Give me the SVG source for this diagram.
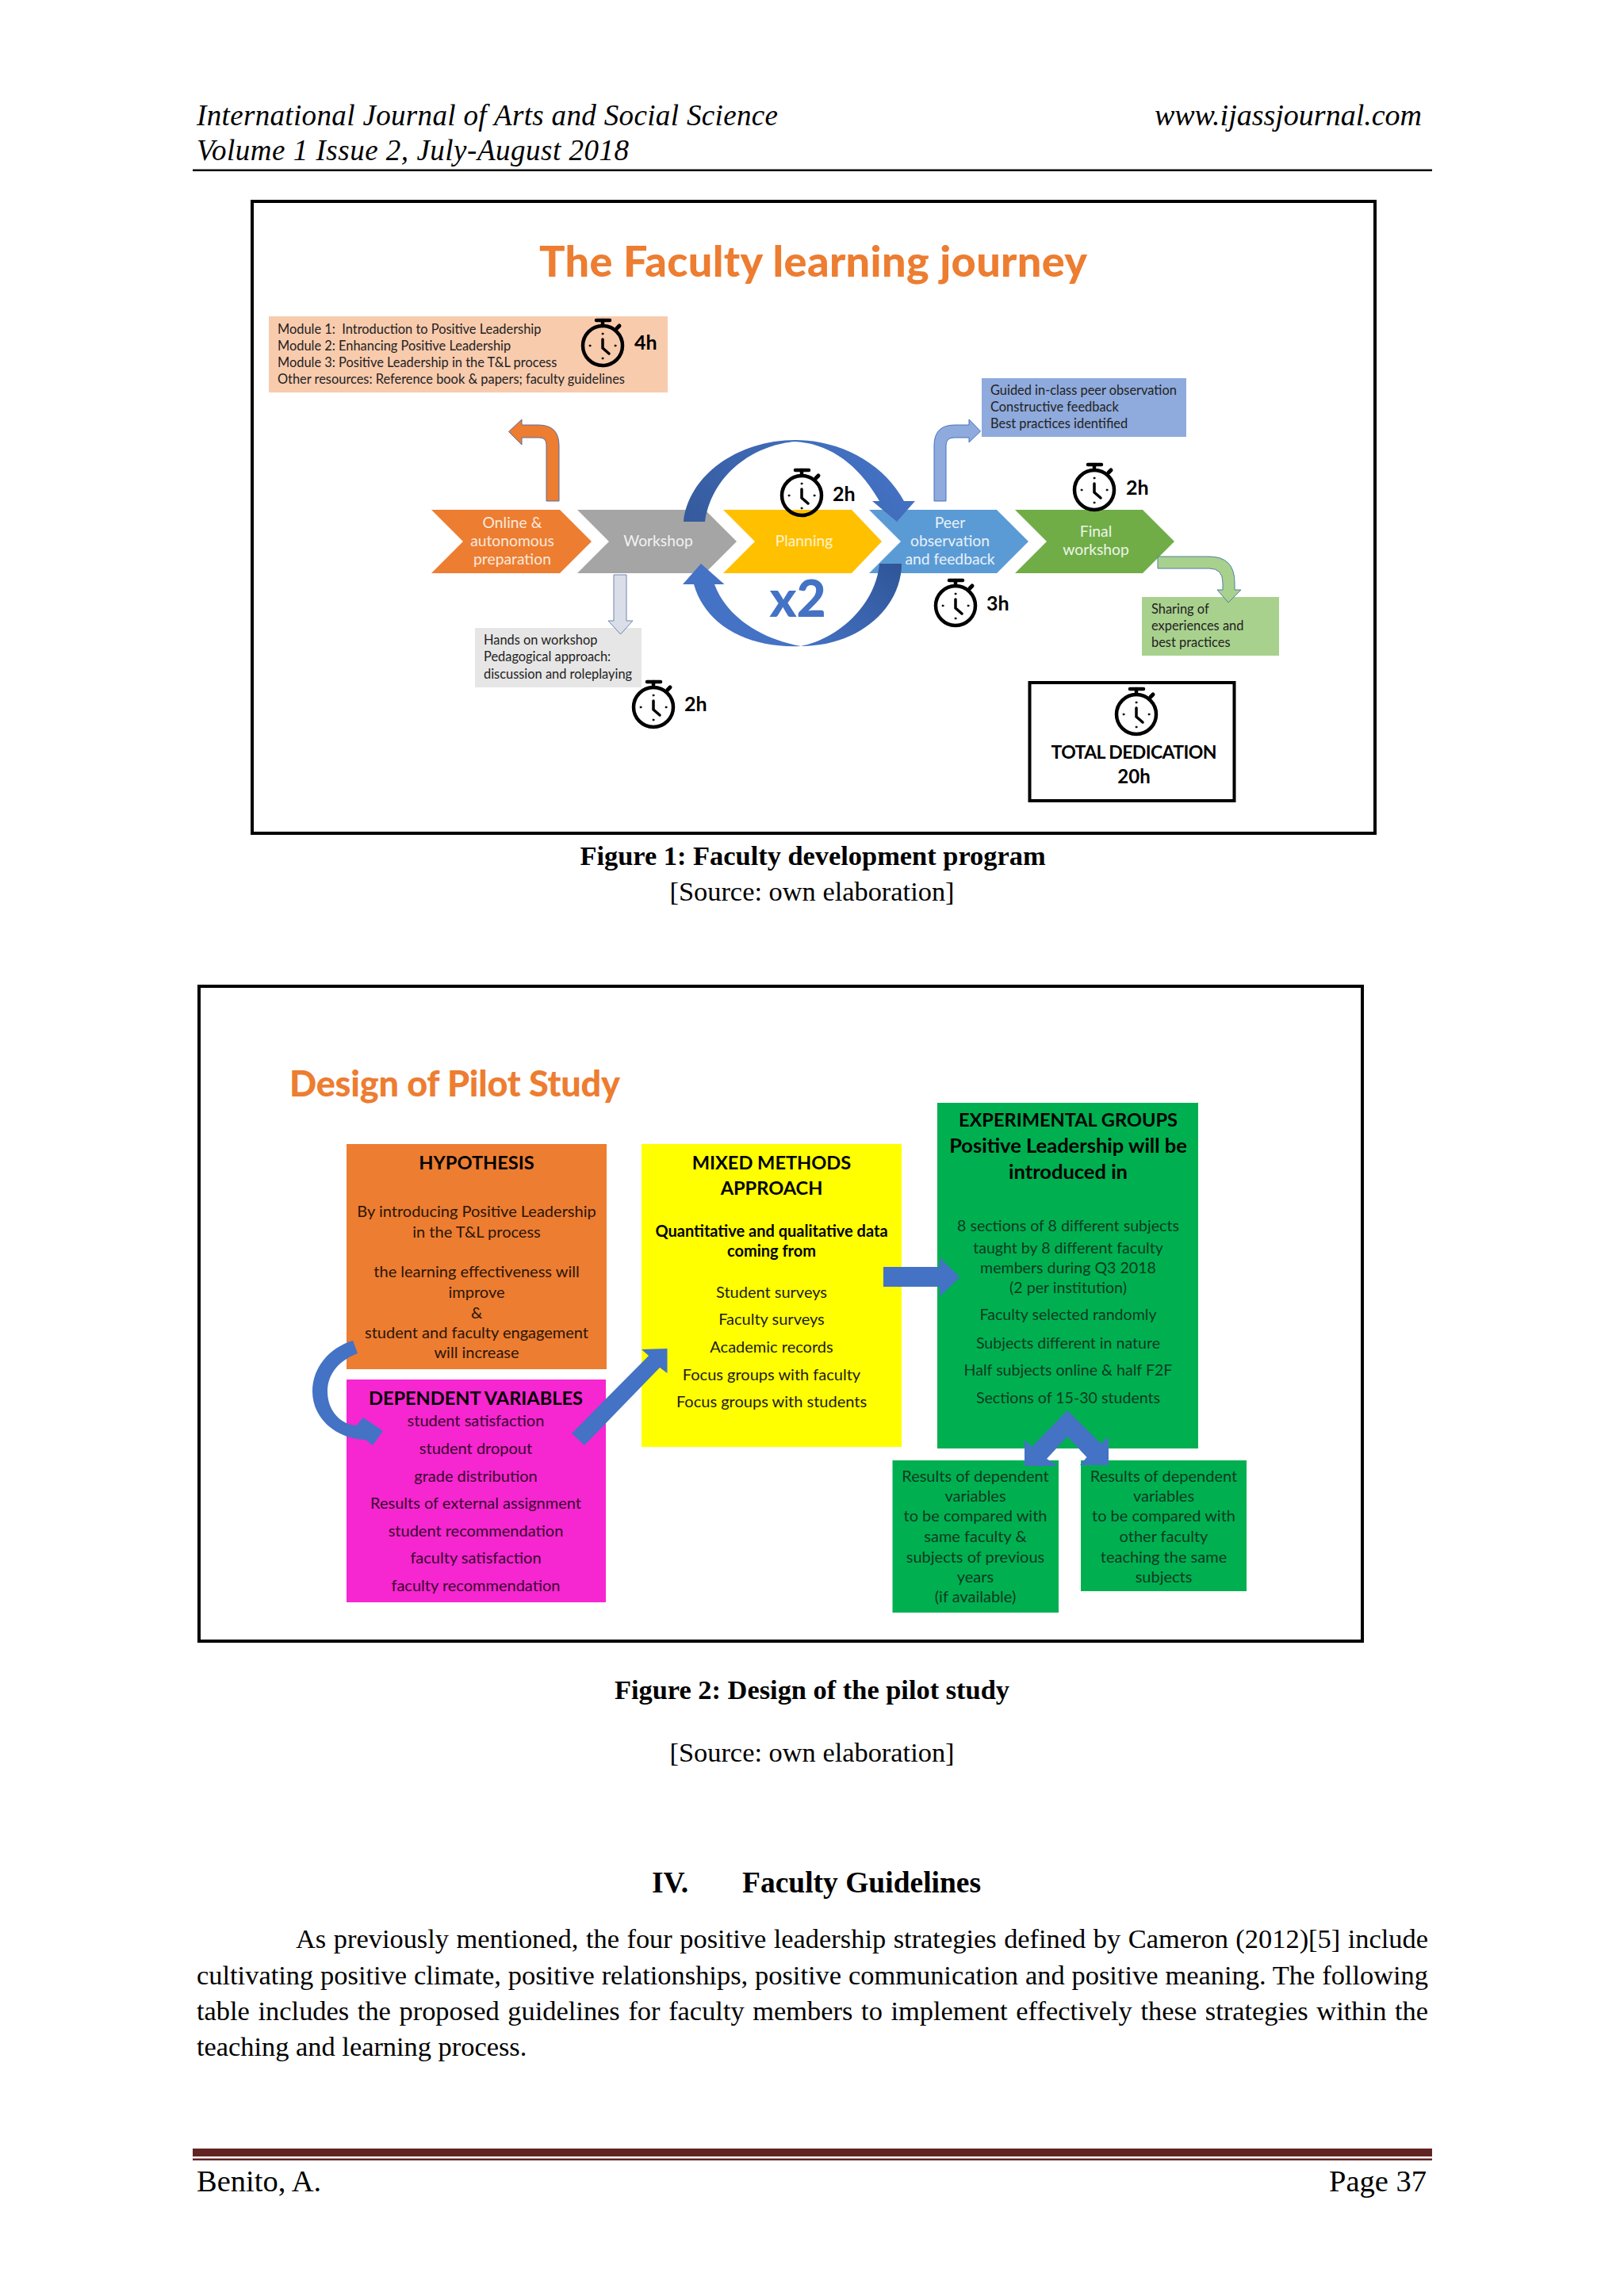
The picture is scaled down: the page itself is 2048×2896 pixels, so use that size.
<svg xmlns="http://www.w3.org/2000/svg" xmlns:xlink="http://www.w3.org/1999/xlink" width="2048" height="2896" viewBox="0 0 2048 2896">
<style>
text{font-family:"Liberation Serif","Times New Roman",serif;fill:#000}
.c,.c text,text.c{font-family:Lato,"Open Sans",sans-serif}
.m{text-anchor:middle}
.small{font-size:16.4px;fill:#222}
.chev{font-size:19.3px;text-anchor:middle}
.hrs{font-size:25px;font-weight:700}
.t2{font-size:20px;text-anchor:middle;fill:#1c1c1c}
.exp{font-size:19.6px}
.onGreen{fill:#0C3A22}
.onPink{fill:#38082E}
.onOrange{fill:#2B1507}
.t2b{font-size:25.5px;font-weight:700;text-anchor:middle}
.caps{font-size:23.6px}
.title{font-weight:900;fill:#ED7D31}
.body{font-size:34.4px}
.cap{font-size:34.4px}
.frame{fill:none;stroke:#000;stroke-width:4}
</style>
<defs>
<g id="clock" fill="none" stroke="#000" stroke-linecap="round">
<circle r="25" stroke-width="4.5"/>
<path d="M-8,-32H9" stroke-width="4.5"/>
<path d="M0,-32V-25" stroke-width="4.5"/>
<path d="M18,-22l3,-3" stroke-width="5"/>
<path d="M0,-8V3L8,10" stroke-width="3.5"/>
<circle cy="-15" r="1" fill="#000" stroke-width="1"/>
<circle cx="-16" r="1" fill="#000" stroke-width="1"/>
<circle cx="16" r="1" fill="#000" stroke-width="1"/>
<circle cy="16" r="1" fill="#000" stroke-width="1"/>
</g>
<linearGradient id="arcTop" x1="0" y1="1" x2="1" y2="0.6"><stop offset="0" stop-color="#355A9C"/><stop offset="1" stop-color="#4472C4"/></linearGradient>
<linearGradient id="arcBot" x1="1" y1="0" x2="0" y2="1"><stop offset="0" stop-color="#2F5597"/><stop offset="1" stop-color="#4472C4"/></linearGradient>
</defs>
<rect width="2048" height="2896" fill="#fff"/>

<g id="page-header">
<text x="248" y="158" font-size="37" font-style="italic" textLength="733">International Journal of Arts and Social Science</text>
<text x="248" y="202" font-size="37" font-style="italic" textLength="545">Volume 1 Issue 2, July-August 2018</text>
<text x="1793" y="158" font-size="38" font-style="italic" text-anchor="end">www.ijassjournal.com</text>
<rect x="243" y="213.5" width="1563" height="2.5" fill="#000"/>
</g>

<g id="figure1">
<rect class="frame" x="318" y="254" width="1416" height="797"/>
<text id="fig1-title" class="c title" x="680" y="349" font-size="54" textLength="691">The Faculty learning journey</text>

<g id="chevron-online"><polygon points="544,643 706,643 746,683 706,723 544,723 584,683" fill="#ED7D31"/>
<g class="c"><text class="chev" x="646" y="666" style="fill:#FBE9DC">Online &amp;</text><text class="chev" x="646" y="689" style="fill:#FBE9DC">autonomous</text><text class="chev" x="646" y="712" style="fill:#FBE9DC">preparation</text></g></g>
<g id="chevron-workshop"><polygon points="728,643 889,643 929,683 889,723 728,723 768,683" fill="#A5A5A5"/>
<g class="c"><text class="chev" x="830" y="689" style="fill:#F2F2F2">Workshop</text></g></g>
<g id="chevron-planning"><polygon points="912,643 1074,643 1112,683 1074,723 912,723 952,683" fill="#FFC000"/>
<g class="c"><text class="chev" x="1014" y="689" style="fill:#FFF3CF">Planning</text></g></g>
<g id="chevron-peer"><polygon points="1096,643 1257,643 1297,683 1257,723 1096,723 1136,683" fill="#5B9BD5"/>
<g class="c"><text class="chev" x="1198" y="666" style="fill:#E8F1FA">Peer</text><text class="chev" x="1198" y="689" style="fill:#E8F1FA">observation</text><text class="chev" x="1198" y="712" style="fill:#E8F1FA">and feedback</text></g></g>
<g id="chevron-final"><polygon points="1280,643 1441,643 1481,683 1441,723 1280,723 1320,683" fill="#70AD47"/>
<g class="c"><text class="chev" x="1382" y="677" style="fill:#EDF5E7">Final</text><text class="chev" x="1382" y="700" style="fill:#EDF5E7">workshop</text></g></g>

<g id="box-modules"><rect x="339" y="399" width="503" height="96" fill="#F8CBAD"/>
<g class="c"><text class="small" x="350" y="421" xml:space="preserve">Module 1:  Introduction to Positive Leadership</text><text class="small" x="350" y="442">Module 2: Enhancing Positive Leadership</text><text class="small" x="350" y="463">Module 3: Positive Leadership in the T&amp;L process</text><text class="small" x="350" y="484">Other resources: Reference book &amp; papers; faculty guidelines</text></g>
<use xlink:href="#clock" href="#clock" x="760" y="436"/><text class="c hrs" x="800" y="441">4h</text></g>

<g id="box-handson"><rect x="599" y="792" width="210" height="75" fill="#E7E6E6"/>
<g class="c"><text class="small" x="610" y="813">Hands on workshop</text><text class="small" x="610" y="834">Pedagogical approach:</text><text class="small" x="610" y="856">discussion and roleplaying</text></g></g>
<g id="clock-workshop"><use xlink:href="#clock" href="#clock" x="824" y="892"/><text class="c hrs" x="863" y="897">2h</text></g>
<g id="clock-planning"><use xlink:href="#clock" href="#clock" x="1011" y="625"/><text class="c hrs" x="1050" y="632">2h</text></g>
<g id="clock-peer"><use xlink:href="#clock" href="#clock" x="1205" y="764"/><text class="c hrs" x="1244" y="770">3h</text></g>
<g id="clock-final"><use xlink:href="#clock" href="#clock" x="1380" y="618"/><text class="c hrs" x="1420" y="624">2h</text></g>

<g id="box-peer"><rect x="1238" y="477" width="258" height="74" fill="#8FAADC"/>
<g class="c"><text class="small" x="1249" y="498">Guided in-class peer observation</text><text class="small" x="1249" y="519">Constructive feedback</text><text class="small" x="1249" y="540">Best practices identified</text></g></g>
<g id="box-sharing"><rect x="1440" y="753" width="173" height="74" fill="#A9D18E"/>
<g class="c"><text class="small" x="1452" y="774">Sharing of</text><text class="small" x="1452" y="795">experiences and</text><text class="small" x="1452" y="816">best practices</text></g></g>
<g id="box-total"><rect x="1298.5" y="861" width="258" height="149" fill="#fff" stroke="#000" stroke-width="4"/>
<use xlink:href="#clock" href="#clock" x="1433" y="901"/>
<g class="c"><text class="m" x="1430" y="957" font-size="23" font-weight="700" textLength="209">TOTAL DEDICATION</text><text class="m" x="1430" y="988" font-size="24" font-weight="700">20h</text></g></g>

<text id="x2" class="c m" x="1006" y="778" font-size="64" font-weight="900" style="fill:#4472C4">x2</text>

<g id="connectors-fig1">
<path d="M705,632V562Q705,536 679,536H658V529L641.5,544.5L658,561V552H680Q689,552 689,561V632Z" fill="#ED7D31" stroke="#5B6FA0"/>
<path d="M774,725H790V783H798L782.5,800L767,783H774Z" fill="#D9DEE8" stroke="#7185AD"/>
<path d="M1178,632V562Q1178,536 1204,536H1222V529L1236.5,544L1222,558V552H1203Q1193,552 1193,562V632Z" fill="#8FAADC" stroke="#4472C4"/>
<path d="M1460,702H1525Q1557,702 1557,735V744H1565L1549,760L1535,744H1542V735Q1542,717 1525,717H1460Z" fill="#A9D18E" stroke="#4F7F9F"/>
<path d="M862,658C868,600 930,555 1003,555C1060,555 1115,585 1140,632H1154L1131,658L1100,632H1109C1085,590 1050,560 1003,557C960,560 900,590 889,658Z" fill="url(#arcTop)"/>
<path d="M1137,711C1137,765 1085,815 1010,815C1060,805 1105,760 1109,711Z" fill="url(#arcBot)"/>
<path d="M861,737L884,711L913.5,737H901C915,775 955,805 1010,815C945,818 890,790 875,737Z" fill="#4472C4"/>
</g>
</g>

<g id="caption1">
<text class="m cap" x="1025" y="1091" font-weight="700">Figure 1: Faculty development program</text>
<text class="m cap" x="1024" y="1136">[Source: own elaboration]</text>
</g>

<g id="figure2">
<rect class="frame" x="251" y="1244" width="1467" height="826"/>
<text id="fig2-title" class="c title" x="365" y="1383" font-size="45" textLength="417">Design of Pilot Study</text>

<g id="box-hypothesis"><rect x="437" y="1443" width="328" height="284" fill="#ED7D31"/>
<g class="c"><text class="t2b caps" x="601" y="1475">HYPOTHESIS</text>
<text class="t2 onOrange" x="601" y="1535" font-size="19.8">By introducing Positive Leadership</text><text class="t2 onOrange" x="601" y="1561">in the T&amp;L process</text>
<text class="t2 onOrange" x="601" y="1611">the learning effectiveness will</text><text class="t2 onOrange" x="601" y="1637">improve</text><text class="t2 onOrange" x="601" y="1663">&amp;</text><text class="t2 onOrange" x="601" y="1688">student and faculty engagement</text><text class="t2 onOrange" x="601" y="1713">will increase</text></g></g>

<g id="box-dependent"><rect x="437" y="1740" width="327" height="281" fill="#F626D0"/>
<g class="c"><text class="t2b caps" x="600" y="1772">DEPENDENT VARIABLES</text>
<text class="t2 onPink" x="600" y="1799">student satisfaction</text><text class="t2 onPink" x="600" y="1834">student dropout</text><text class="t2 onPink" x="600" y="1869">grade distribution</text><text class="t2 onPink" x="600" y="1903">Results of external assignment</text><text class="t2 onPink" x="600" y="1938">student recommendation</text><text class="t2 onPink" x="600" y="1972">faculty satisfaction</text><text class="t2 onPink" x="600" y="2007">faculty recommendation</text></g></g>

<g id="box-mixed"><rect x="809" y="1443" width="328" height="382" fill="#FF0"/>
<g class="c"><text class="t2b caps" x="973" y="1475">MIXED METHODS</text><text class="t2b caps" x="973" y="1507">APPROACH</text>
<text class="t2" x="973" y="1560" style="font-weight:700;fill:#000">Quantitative and qualitative data</text><text class="t2" x="973" y="1585" style="font-weight:700;fill:#000">coming from</text>
<text class="t2" x="973" y="1637">Student surveys</text><text class="t2" x="973" y="1671">Faculty surveys</text><text class="t2" x="973" y="1706">Academic records</text><text class="t2" x="973" y="1741">Focus groups with faculty</text><text class="t2" x="973" y="1775">Focus groups with students</text></g></g>

<g id="box-experimental"><rect x="1182" y="1391" width="329" height="436" fill="#00B050"/>
<g class="c"><text class="t2b caps" x="1347" y="1421">EXPERIMENTAL GROUPS</text><text class="t2b" x="1347" y="1454">Positive Leadership will be</text><text class="t2b" x="1347" y="1487">introduced in</text>
<text class="t2 exp onGreen" x="1347" y="1553">8 sections of 8 different subjects</text><text class="t2 exp onGreen" x="1347" y="1581">taught by 8 different faculty</text><text class="t2 exp onGreen" x="1347" y="1606">members during Q3 2018</text><text class="t2 exp onGreen" x="1347" y="1631">(2 per institution)</text><text class="t2 exp onGreen" x="1347" y="1665">Faculty selected randomly</text><text class="t2 exp onGreen" x="1347" y="1701">Subjects different in nature</text><text class="t2 exp onGreen" x="1347" y="1735">Half subjects online &amp; half F2F</text><text class="t2 exp onGreen" x="1347" y="1770">Sections of 15-30 students</text></g></g>

<g id="box-results-left"><rect x="1125.5" y="1842" width="209.5" height="192" fill="#00B050"/>
<g class="c"><text class="t2 onGreen" x="1230" y="1869">Results of dependent</text><text class="t2 onGreen" x="1230" y="1894">variables</text><text class="t2 onGreen" x="1230" y="1919">to be compared with</text><text class="t2 onGreen" x="1230" y="1945">same faculty &amp;</text><text class="t2 onGreen" x="1230" y="1971">subjects of previous</text><text class="t2 onGreen" x="1230" y="1996">years</text><text class="t2 onGreen" x="1230" y="2021">(if available)</text></g></g>

<g id="box-results-right"><rect x="1363" y="1842" width="209" height="165" fill="#00B050"/>
<g class="c"><text class="t2 onGreen" x="1467.5" y="1869">Results of dependent</text><text class="t2 onGreen" x="1467.5" y="1894">variables</text><text class="t2 onGreen" x="1467.5" y="1919">to be compared with</text><text class="t2 onGreen" x="1467.5" y="1945">other faculty</text><text class="t2 onGreen" x="1467.5" y="1971">teaching the same</text><text class="t2 onGreen" x="1467.5" y="1996">subjects</text></g></g>

<g id="connectors-fig2" fill="#4472C4">
<path d="M445,1691L451,1707C425,1717 413,1735 413,1755C413,1780 430,1797 449.5,1798L458,1788L483,1805L470,1823L461,1816C425,1815 394,1790 394,1755C394,1725 415,1700 445,1691Z"/>
<polygon points="721,1808 818,1710 809,1702 841.5,1701 841.5,1732 832,1725 737,1823"/>
<polygon points="1114,1598 1185,1598 1185,1586 1210.5,1611 1185,1635.5 1185,1623 1114,1623"/>
<polygon points="1346,1779 1388.5,1821 1398,1812 1398,1848 1362,1848 1370.5,1838 1346,1812 1320,1840 1334.5,1849 1292,1849 1292,1816 1301,1825"/>
</g>
</g>

<g id="caption2">
<text class="m cap" x="1024" y="2143" font-weight="700">Figure 2: Design of the pilot study</text>
<text class="m cap" x="1024" y="2222">[Source: own elaboration]</text>
</g>

<g id="section">
<text x="822" y="2387" font-size="37.5" font-weight="700">IV.</text>
<text x="936" y="2387" font-size="37.5" font-weight="700">Faculty Guidelines</text>
<text class="body" x="373" y="2457" word-spacing="0.9" textLength="1428">As previously mentioned, the four positive leadership strategies defined by Cameron (2012)[5] include</text>
<text class="body" x="248" y="2503" word-spacing="0.3" textLength="1553">cultivating positive climate, positive relationships, positive communication and positive meaning. The following</text>
<text class="body" x="248" y="2548" word-spacing="2" textLength="1553">table includes the proposed guidelines for faculty members to implement effectively these strategies within the</text>
<text class="body" x="248" y="2593">teaching and learning process.</text>
</g>

<g id="page-footer">
<rect x="243" y="2710" width="1563" height="10" fill="#622423"/>
<rect x="243" y="2722.5" width="1563" height="2.5" fill="#622423"/>
<text x="248" y="2764" font-size="38.5">Benito, A.</text>
<text x="1799" y="2764" font-size="38.5" text-anchor="end">Page 37</text>
</g>
</svg>
